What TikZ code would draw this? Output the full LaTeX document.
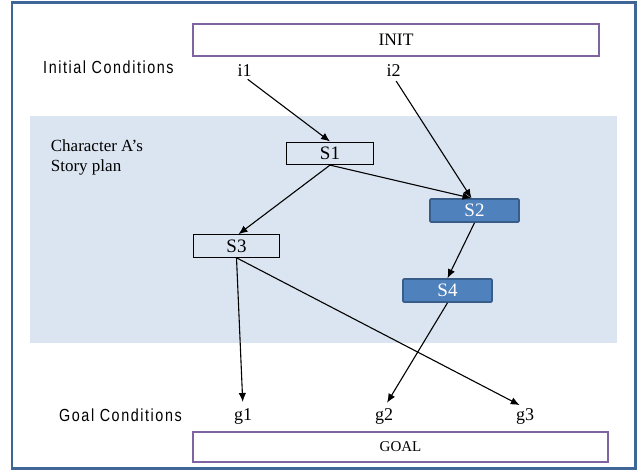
\documentclass[tikz,border=0pt]{standalone}
\usepackage{fontspec}
\setmainfont{Liberation Serif}
\newfontfamily\condsans[FakeStretch=0.82,LetterSpace=9]{Liberation Sans}
\usetikzlibrary{arrows.meta,shadows}

\definecolor{framecol}{HTML}{3E6697}
\definecolor{planbg}{HTML}{DBE5F1}
\definecolor{stepfill}{HTML}{4F81BD}
\definecolor{stepdraw}{HTML}{385D8A}
\definecolor{endcol}{HTML}{8064A2}

\tikzset{
  endbox/.style={draw=endcol, line width=1.2pt, fill=white, inner sep=0pt,
    drop shadow={shadow xshift=1.2pt, shadow yshift=-1.2pt, opacity=0.15}},
  plainstep/.style={draw=black, line width=1.1pt, minimum width=86.5pt,
    minimum height=22.5pt, inner sep=0pt, font=\fontsize{19}{20}\selectfont},
  keystep/.style={draw=stepdraw, line width=1.6pt, fill=stepfill, rounded corners=1pt,
    text=white, minimum width=89pt, minimum height=23pt, inner sep=0pt,
    font=\fontsize{19}{20}\selectfont},
  cond/.style={inner sep=0pt, anchor=base, font=\fontsize{18}{20}\selectfont},
  sidelabel/.style={inner sep=0pt, anchor=base west, font=\condsans\fontsize{17.5}{20}\selectfont},
  plantext/.style={inner sep=0pt, anchor=base west, font=\fontsize{17}{20}\selectfont},
  link/.style={line width=1.1pt, -{Latex[length=9pt,width=7.5pt]}}
}

\begin{document}
\begin{tikzpicture}[x=1pt,y=-1pt]
  % canvas and outer frame
  \fill[white] (0,0) rectangle (639,472);
  \useasboundingbox (0,0) rectangle (639,472);
  \draw[framecol, line width=2.7pt] (12,2.3) rectangle (635.3,468.7);

  % shaded plan area
  \fill[planbg] (30,116) rectangle (617,343);

  % start and end boxes
  \node[endbox, minimum width=406pt, minimum height=32pt,
        font=\fontsize{17.5}{20}\selectfont] (init) at (396,40) {INIT};
  \node[endbox, minimum width=415pt, minimum height=30pt,
        font=\fontsize{15}{18}\selectfont] (goal) at (400.5,447) {GOAL};

  % side captions
  \node[sidelabel] (initcap) at (43,73.3) {Initial Conditions};
  \node[sidelabel] (goalcap) at (59,421) {Goal Conditions};
  \node[plantext] (plan1) at (50.7,151.7) {Character A’s};
  \node[plantext] (plan2) at (50.7,171.7) {Story plan};

  % conditions
  \node[cond] (i1) at (244.5,76.7) {i1};
  \node[cond] (i2) at (393.5,76.7) {i2};
  \node[cond] (g1) at (243,420) {g1};
  \node[cond] (g2) at (384,420) {g2};
  \node[cond] (g3) at (525,420) {g3};

  % plan steps
  \node[plainstep] (s1) at (330,153.3) {S1};
  \node[plainstep] (s3) at (236.5,246) {S3};
  \node[keystep] (s2) at (474.5,210.5) {S2};
  \node[keystep] (s4) at (447.5,290.5) {S4};

  % causal links
  \draw[link, shorten <=4pt] (i1.south) -- (s1.north);
  \draw[link, shorten <=5pt] (i2.south) -- ([xshift=-3pt]s2.north);
  \draw[link] (s1.south) -- ([xshift=-3pt]s2.north);
  \draw[link] (s1.south) -- ([xshift=2pt]s3.north);
  \draw[link] (s2.south) -- (s4.north);
  \draw[link, shorten >=6pt] (s3.south) -- (g1.north);
  \draw[link, shorten >=6pt] (s3.south) -- (g3.north);
  \draw[link, shorten >=6pt] (s4.south) -- (g2.north);
\end{tikzpicture}
\end{document}
